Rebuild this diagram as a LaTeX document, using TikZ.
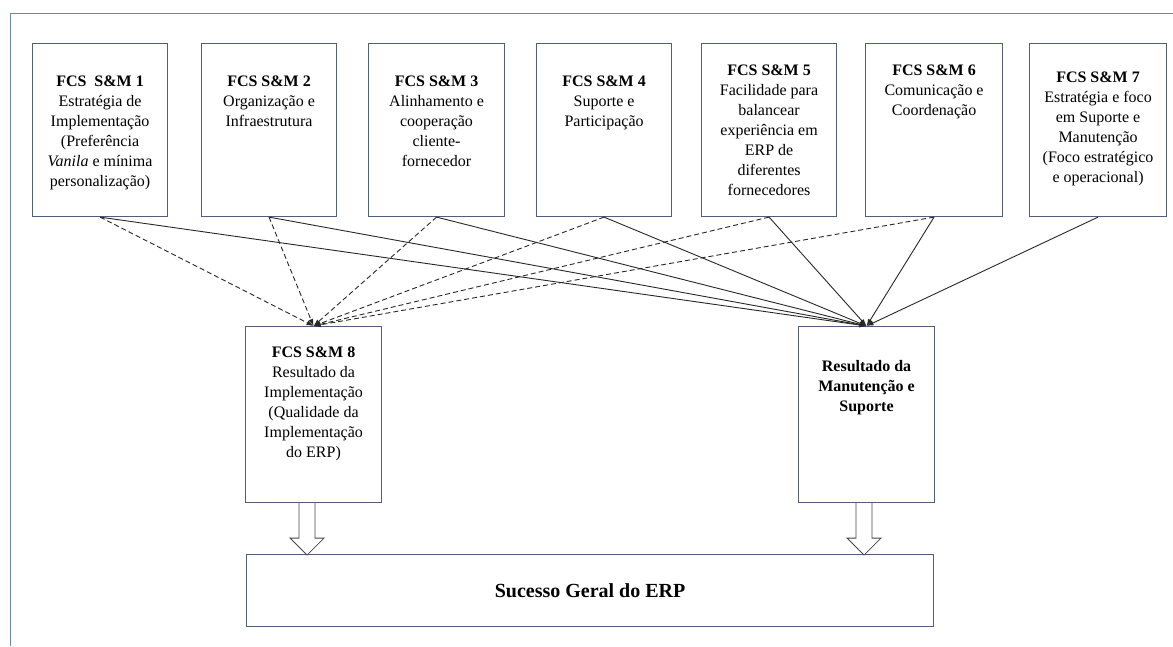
\documentclass[tikz,border=0pt]{standalone}
\usepackage{fontspec}
\setmainfont{Liberation Serif}
\usetikzlibrary{arrows.meta,calc}
\definecolor{boxline}{RGB}{80,94,122}
\definecolor{frameline}{RGB}{104,136,184}
\definecolor{wire}{RGB}{40,40,40}
\begin{document}
\begin{tikzpicture}[x=1pt,y=-1pt,
  box/.style={draw=boxline, line width=1.1pt, anchor=north west, inner sep=0pt},
  topbox/.style={box, minimum width=135pt, minimum height=173pt},
  midbox/.style={box, minimum width=136pt, minimum height=176pt},
  txt/.style={align=center, anchor=north, inner sep=0pt, font=\fontsize{16}{20}\selectfont},
  link/.style={draw=wire, line width=0.9pt, -{Latex[length=7pt,width=5pt]}},
  dashlink/.style={link, dash pattern=on 5pt off 3pt},
  hollow/.style={draw=wire!85, line width=0.8pt, fill=white}
]
\useasboundingbox (0,0) rectangle (1173,646);
\fill[white] (0,0) rectangle (1173,646);
% outer frame (only the top and left edges are in view)
\draw[frameline, line width=1pt] (10,646) -- (10,13) -- (1173,13);

% top row of success factors
\node[topbox] (b1) at (32,43) {};
\node[topbox] (b2) at (201,43) {};
\node[topbox, minimum width=136pt] (b3) at (368,43) {};
\node[topbox] (b4) at (536,43) {};
\node[topbox] (b5) at (701,43) {};
\node[topbox, minimum width=137pt] (b6) at (865,43) {};
\node[topbox, minimum width=137pt] (b7) at (1029,43) {};

\node[txt] (t1) at (b1.center |- 0,76) {\textbf{FCS~~S\&M 1}\\Estratégia de\\Implementação\\(Preferência\\\textit{Vanila} e mínima\\personalização)};
\node[txt] (t2) at (b2.center |- 0,76) {\textbf{FCS S\&M 2}\\Organização e\\Infraestrutura};
\node[txt] (t3) at (b3.center |- 0,76) {\textbf{FCS S\&M 3}\\Alinhamento e\\cooperação\\cliente-\\fornecedor};
\node[txt] (t4) at (b4.center |- 0,76) {\textbf{FCS S\&M 4}\\Suporte e\\Participação};
\node[txt] (t5) at (b5.center |- 0,65) {\textbf{FCS S\&M 5}\\Facilidade para\\balancear\\experiência em\\ERP de\\diferentes\\fornecedores};
\node[txt] (t6) at (b6.center |- 0,65) {\textbf{FCS S\&M 6}\\Comunicação e\\Coordenação};
\node[txt] (t7) at (b7.center |- 0,72) {\textbf{FCS S\&M 7}\\Estratégia e foco\\em Suporte e\\Manutenção\\(Foco estratégico\\e operacional)};

% intermediate outcomes
\node[midbox] (b8) at (245,326) {};
\node[midbox] (bm) at (798,326) {};
\node[txt] (t8) at (b8.center |- 0,347) {\textbf{FCS S\&M 8}\\Resultado da\\Implementação\\(Qualidade da\\Implementação\\do ERP)};
\node[txt] (tm) at (bm.center |- 0,360) {\textbf{Resultado da}\\\textbf{Manutenção e}\\\textbf{Suporte}};

% overall outcome
\node[box, minimum width=687pt, minimum height=72pt] (bs) at (246,554) {};
\node[font=\fontsize{20}{24}\selectfont\bfseries, inner sep=0pt] (ts) at (bs.center) {Sucesso Geral do ERP};

% influences on the implementation result (dashed)
\foreach \s in {b1,b2,b3,b4,b5,b6}
  \draw[dashlink] (\s.south) -- (b8.north);
% influences on the maintenance and support result (solid)
\foreach \s in {b1,b2,b3,b4,b5,b6,b7}
  \draw[link] (\s.south) -- (bm.north);

% block arrows into the overall outcome
\draw[hollow] ([xshift=-6.5pt]b8.south) ++(-8,0) -- ++(0,35) -- ++(-9,0) -- ++(17,17) -- ++(17,-17) -- ++(-9,0) -- ++(0,-35);
\draw[hollow] ([xshift=-2.5pt]bm.south) ++(-8,0) -- ++(0,35) -- ++(-9,0) -- ++(17,17) -- ++(17,-17) -- ++(-9,0) -- ++(0,-35);
\end{tikzpicture}
\end{document}
